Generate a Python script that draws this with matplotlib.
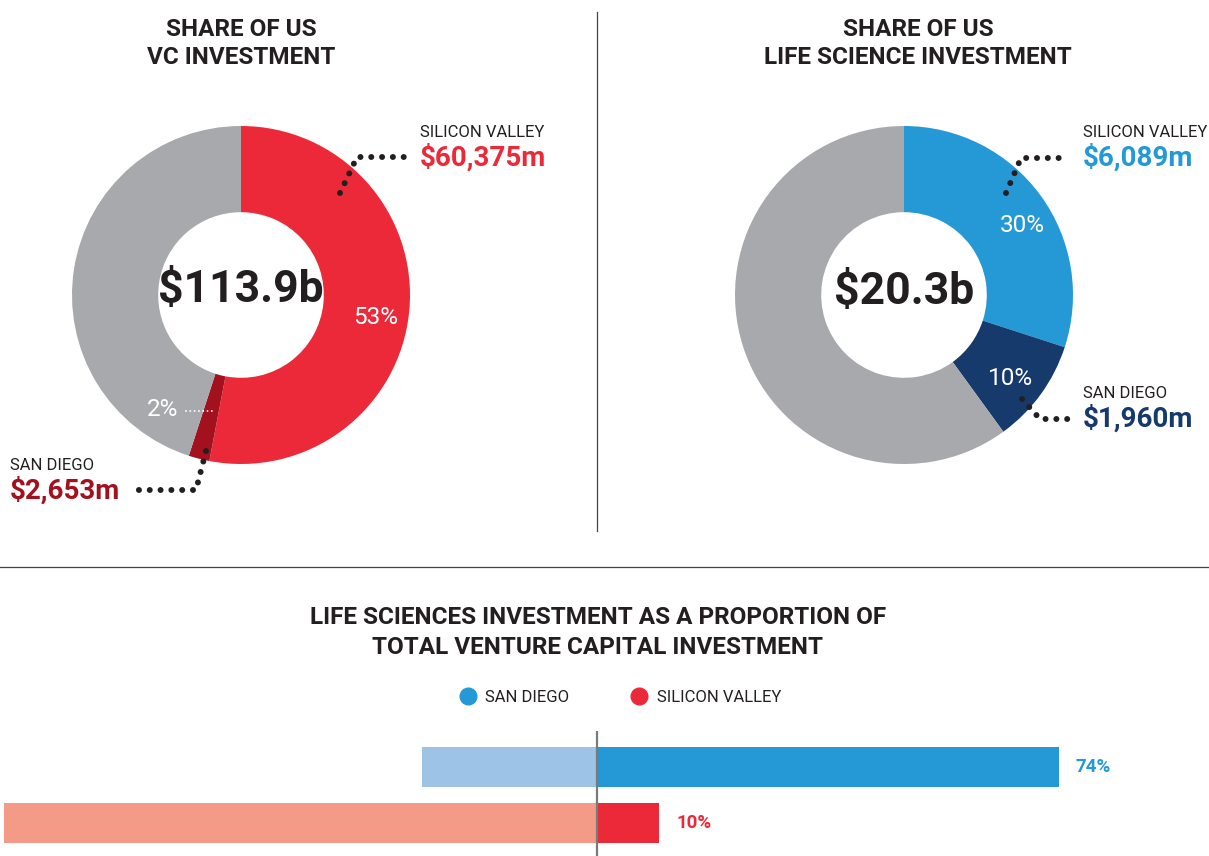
import matplotlib
matplotlib.use('Agg')
import matplotlib.pyplot as plt
from matplotlib.lines import Line2D

plt.rcParams['font.family'] = ['Roboto', 'DejaVu Sans']

W, H = 1209, 856

# donut data (share of total, clockwise from top)
vc_parts = ['Silicon Valley', 'San Diego', 'Rest of US']
vc_share = [53, 2, 45]
ls_parts = ['Silicon Valley', 'San Diego', 'Rest of US']
ls_share = [30, 10, 60]
vc_total = '$113.9b'
ls_total = '$20.3b'
vc_amounts = ['$60,375m', '$2,653m']
ls_amounts = ['$6,089m', '$1,960m']

# bar data: life science share of VC, and the light remainder bars on the left
bar_regions = ['SAN DIEGO', 'SILICON VALLEY']
ls_pct = [74, 10]
rest_pct = [28, 95]

red, darkred, grey = '#EC2938', '#A3111F', '#A7A9AC'
blue, navy = '#2599D6', '#163A6C'
lightblue, salmon = '#9DC3E6', '#F49B88'
ink = '#231F20'

fig = plt.figure(figsize=(W / 100, H / 100), dpi=100)


def donut(cx, cy, r, shares, colors):
    ax = fig.add_axes([(cx - r) / W, (H - cy - r) / H, 2 * r / W, 2 * r / H])
    ax.pie(shares, colors=colors, startangle=90, counterclock=False,
           wedgeprops=dict(width=0.51, linewidth=0))
    ax.set_xlim(-1, 1)
    ax.set_ylim(-1, 1)
    ax.set_aspect('auto')
    return ax


donut(241, 295, 169, vc_share, [red, darkred, grey])
donut(904, 295, 169, ls_share, [blue, navy, grey])

# bottom bar chart
bx = fig.add_axes([0, 0, 1, (H - 731) / H])
ypos = list(range(len(bar_regions)))
bx.barh(ypos, ls_pct, height=0.714, color=[blue, red], linewidth=0)
bx.barh(ypos, [-v for v in rest_pct], height=0.714, color=[lightblue, salmon], linewidth=0)
bx.axvline(0, color='#7a7a7a', lw=1.6)
bx.set_xlim(-597 / 6.24, (W - 597) / 6.24)
bx.set_ylim(1 + 33 / 56, -36 / 56)
bx.axis('off')
for y, v, c in zip(ypos, ls_pct, [blue, red]):
    bx.text(v + 2.7, y, f'{v}%', color=c, fontsize=13.5, fontweight='bold',
            ha='left', va='center')

# overlay for labels, separators, leaders
ov = fig.add_axes([0, 0, 1, 1], zorder=5)
ov.set_xlim(0, W)
ov.set_ylim(H, 0)
ov.axis('off')

ov.plot([597, 597], [12, 531], color='#444444', lw=0.9)
ov.plot([0, W], [567, 567], color='#444444', lw=0.9)

tkw = dict(color=ink, fontweight='bold', ha='center', va='center', fontsize=17.5)
ov.text(241, 29, 'SHARE OF US', **tkw)
ov.text(241, 57, 'VC INVESTMENT', **tkw)
ov.text(918, 29, 'SHARE OF US', **tkw)
ov.text(918, 57, 'LIFE SCIENCE INVESTMENT', **tkw)
ov.text(598, 618, 'LIFE SCIENCES INVESTMENT AS A PROPORTION OF', **tkw)
ov.text(598, 647, 'TOTAL VENTURE CAPITAL INVESTMENT', **tkw)

ov.text(241, 290, vc_total, color=ink, fontsize=32, fontweight='bold', ha='center', va='center')
ov.text(904, 292, ls_total, color=ink, fontsize=32, fontweight='bold', ha='center', va='center')

pkw = dict(color='white', fontsize=17.5, ha='center', va='center')
ov.text(376, 317, f'{vc_share[0]}%', **pkw)
ov.text(163, 409, f'{vc_share[1]}%', **pkw)
ov.text(1022, 225, f'{ls_share[0]}%', **pkw)
ov.text(1011, 378, f'{ls_share[1]}%', **pkw)


def dots(xs, ys, color=ink, lw=4.3, gap=1.8):
    ov.plot(xs, ys, color=color, lw=lw, linestyle=(0, (0.01, gap)),
            dash_capstyle='round')


dots([340, 357, 405], [193, 157, 157])
dots([206, 196, 133], [451, 490, 490])
dots([1006, 1021, 1068], [193, 158, 158])
dots([1022, 1040, 1068], [399, 419, 419])
dots([186, 212], [411, 411], color='white', lw=1.4, gap=2.2)


def callout(x, y, name, amount, color):
    ov.text(x, y, name, color=ink, fontsize=12, ha='left', va='center')
    ov.text(x, y + 26, amount, color=color, fontsize=20, fontweight='bold',
            ha='left', va='center')


callout(420, 132, 'SILICON VALLEY', vc_amounts[0], red)
callout(10, 465, 'SAN DIEGO', vc_amounts[1], darkred)
callout(1083, 132, 'SILICON VALLEY', ls_amounts[0], blue)
callout(1083, 393, 'SAN DIEGO', ls_amounts[1], navy)

handles = [Line2D([], [], marker='o', ls='', color=c, markersize=12) for c in (blue, red)]
ov.legend(handles, bar_regions, loc='center', bbox_to_anchor=(616 / W, 1 - 697 / H),
          ncol=2, frameon=False, fontsize=12, handletextpad=0.05, columnspacing=3.2,
          labelcolor=ink)

fig.savefig('out.png', dpi=100)
